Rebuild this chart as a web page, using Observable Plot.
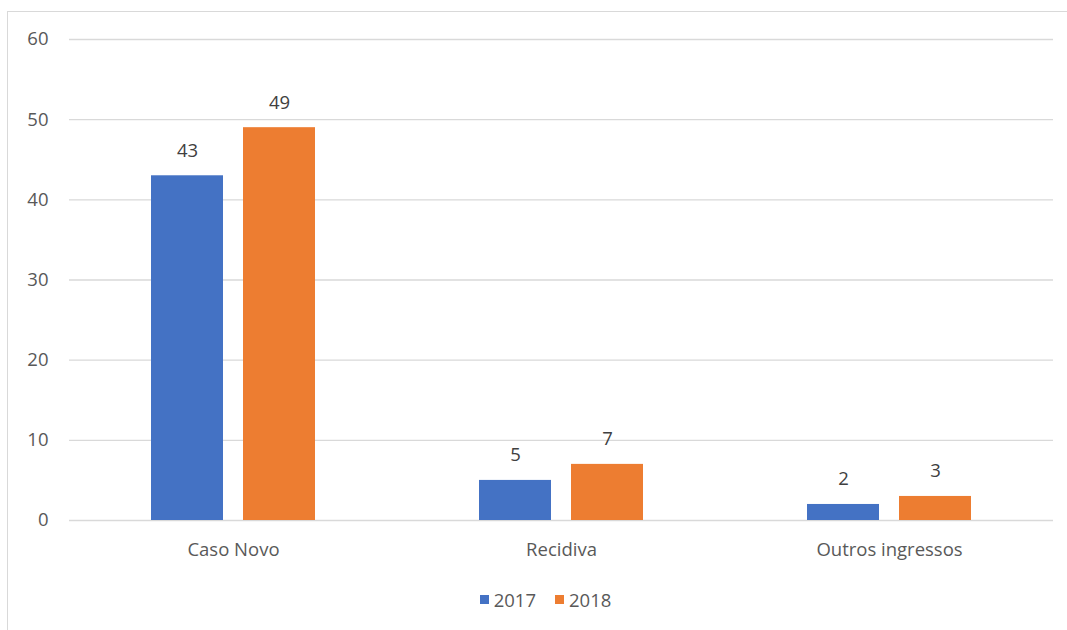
<!DOCTYPE html>
<html>
<head>
<meta charset="utf-8">
<script src="https://cdn.jsdelivr.net/npm/d3@7"></script>
<script src="https://cdn.jsdelivr.net/npm/@observablehq/plot@0.6"></script>
<style>
  html, body { margin: 0; padding: 0; background: #fff; }
  #wrap { position: relative; width: 1067px; height: 630px; overflow: hidden; font-family: "Open Sans", sans-serif; }
  #frame { position: absolute; left: 7px; top: 11px; width: 1080px; height: 640px; border: 1px solid #d9d9d9; box-sizing: border-box; }
  #chart { position: absolute; left: 0; top: 0; }
  #legend { position: absolute; left: 0; width: 1067px; top: 587px; display: flex; justify-content: center; gap: 19px; font-size: 18.5px; color: #595959; padding-left: 24px; box-sizing: border-box; }
  #legend span.item { display: flex; align-items: center; gap: 5px; }
  #legend span.sw { display: inline-block; width: 9px; height: 9px; }
</style>
</head>
<body>
<div id="wrap">
  <div id="frame"></div>
  <div id="chart"></div>
  <div id="legend"></div>
</div>
<script>
const categories = ["Caso Novo", "Recidiva", "Outros ingressos"];
const years = ["2017", "2018"];
const values2017 = [43, 5, 2];
const values2018 = [49, 7, 3];
const yTicks = [0, 10, 20, 30, 40, 50, 60];
const colors = ["#4472C4", "#ED7D31"];

const data = categories.flatMap((c, i) => [
  {cat: c, year: years[0], value: values2017[i]},
  {cat: c, year: years[1], value: values2018[i]}
]);

const chart = Plot.plot({
  width: 1067,
  height: 565,
  marginLeft: 68,
  marginRight: 14,
  marginTop: 39,
  marginBottom: 45,
  style: {fontFamily: "Open Sans, sans-serif", fontSize: "18.5px", color: "#595959", background: "transparent"},
  fx: {domain: categories, padding: 0, label: null},
  x: {domain: years, paddingInner: 0.215, paddingOuter: 0.871, axis: null},
  y: {domain: [0, 60], label: null},
  color: {domain: years, range: colors},
  marks: [
    Plot.ruleY(yTicks, {stroke: "#d9d9d9", strokeWidth: 1.3}),
    Plot.barY(data, {fx: "cat", x: "year", y: "value", fill: "year"}),
    Plot.text(data, {fx: "cat", x: "year", y: "value", text: d => String(d.value), dy: -25, fill: "#404040"}),
    Plot.axisY({ticks: yTicks, tickSize: 0, tickPadding: 21, label: null, fill: "#595959"}),
    Plot.axisFx({anchor: "bottom", tickSize: 0, tickPadding: 22, label: null, fill: "#595959"})
  ]
});
document.getElementById("chart").appendChild(chart);

const legend = document.getElementById("legend");
years.forEach((y, i) => {
  const item = document.createElement("span");
  item.className = "item";
  const sw = document.createElement("span");
  sw.className = "sw";
  sw.style.background = colors[i];
  const t = document.createElement("span");
  t.textContent = y;
  item.appendChild(sw);
  item.appendChild(t);
  legend.appendChild(item);
});
</script>
</body>
</html>
